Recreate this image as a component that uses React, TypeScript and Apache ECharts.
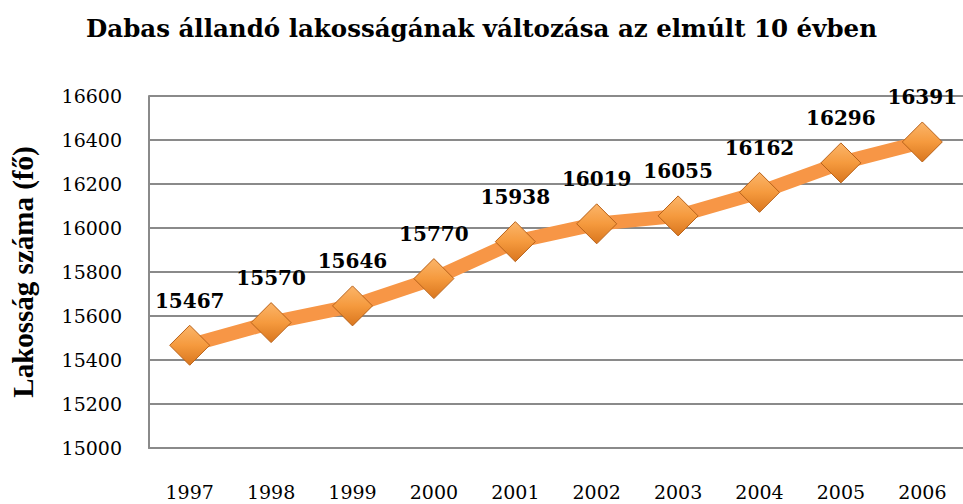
import React, { useEffect, useRef } from "react";
import * as echarts from "echarts";

const years = ["1997", "1998", "1999", "2000", "2001", "2002", "2003", "2004", "2005", "2006"];
const population = [15467, 15570, 15646, 15770, 15938, 16019, 16055, 16162, 16296, 16391];
const yMin = 15000;
const yMax = 16600;
const yStep = 200;
const titleText = "Dabas állandó lakosságának változása az elmúlt 10 évben";
const yAxisTitle = "Lakosság száma (fő)";

const serif = "'Liberation Serif', 'DejaVu Serif', serif";
const wideSerif = "'DejaVu Serif', 'Liberation Serif', serif";

export default function App() {
  const ref = useRef<HTMLDivElement>(null);
  useEffect(() => {
    if (!ref.current) return;
    const chart = echarts.init(ref.current, undefined, { renderer: "svg" });
    chart.setOption({
      animation: false,
      backgroundColor: "#ffffff",
      title: {
        text: titleText,
        left: "center",
        top: 11,
        textStyle: { fontFamily: wideSerif, fontWeight: "bold", fontSize: 24.5, color: "#000" },
      },
      grid: { left: 148, right: -6, top: 96, bottom: 56, containLabel: false, show: false },
      xAxis: {
        type: "category",
        data: years,
        boundaryGap: true,
        axisLine: { show: true, lineStyle: { color: "#8a8a8a", width: 2 } },
        axisTick: { show: false },
        axisLabel: { margin: 34, fontFamily: wideSerif, fontSize: 19, color: "#000" },
      },
      yAxis: {
        type: "value",
        min: yMin,
        max: yMax,
        interval: yStep,
        name: yAxisTitle,
        nameLocation: "middle",
        nameGap: 112,
        nameTextStyle: { fontFamily: serif, fontWeight: "bold", fontSize: 29, color: "#000" },
        axisLine: { show: true, lineStyle: { color: "#8a8a8a", width: 2 } },
        axisTick: { show: false },
        splitLine: { show: true, lineStyle: { color: "#8a8a8a", width: 2 } },
        axisLabel: {
          margin: 27,
          fontFamily: wideSerif,
          fontSize: 19,
          color: "#000",
          formatter: (v: number) => String(v),
        },
      },
      series: [
        {
          type: "line",
          data: population,
          lineStyle: { color: "#F79646", width: 14 },
          symbol: "diamond",
          symbolSize: 40,
          itemStyle: {
            color: new echarts.graphic.LinearGradient(0, 0, 0, 1, [
              { offset: 0, color: "#FBB56A" },
              { offset: 0.5, color: "#F59A3E" },
              { offset: 1, color: "#D9761E" },
            ]),
            borderColor: "#B8621A",
            borderWidth: 1,
          },
          label: {
            show: true,
            position: "top",
            distance: 14,
            fontFamily: wideSerif,
            fontWeight: "bold",
            fontSize: 20,
            color: "#000",
          },
        },
      ],
    });
    return () => chart.dispose();
  }, []);
  return <div ref={ref} style={{ width: 963, height: 504, position: "absolute", left: 0, top: 0 }} />;
}
